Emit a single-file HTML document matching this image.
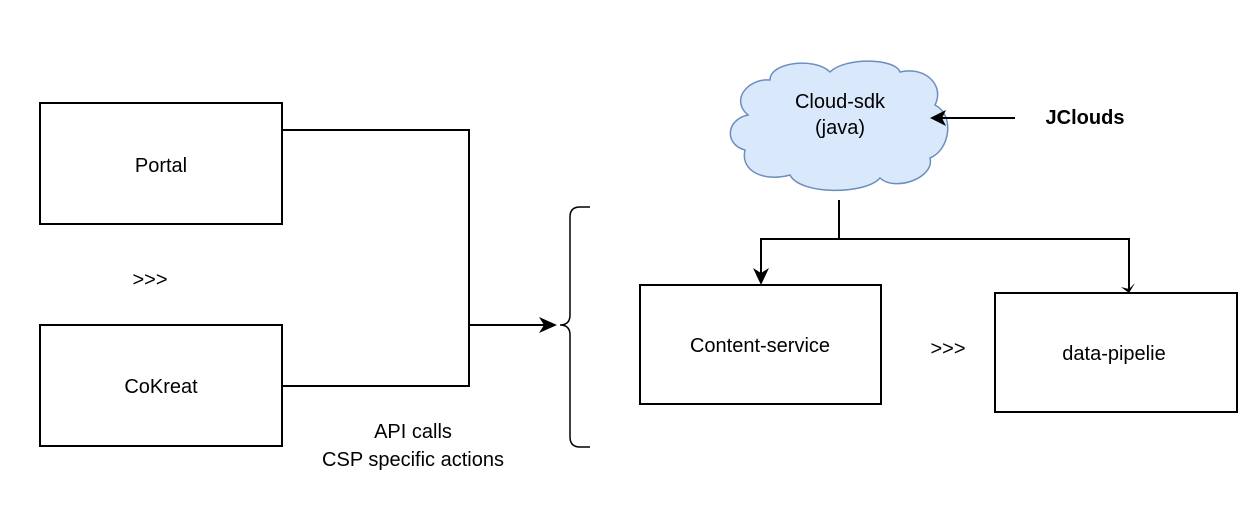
<!DOCTYPE html>
<html><head><style>
body{margin:0;background:#fff;}
svg text{font-family:"Liberation Sans",Arial,sans-serif;font-size:20px;fill:#000;}
</style></head><body>
<svg width="1252" height="522" viewBox="0 0 1252 522" xmlns="http://www.w3.org/2000/svg">
<g fill="#fff" stroke="#000" stroke-width="2">
<rect x="40" y="103" width="242" height="121"/>
<rect x="40" y="325" width="242" height="121"/>
<rect x="640" y="285" width="241" height="119"/>
<rect x="995" y="293" width="242" height="119"/>
</g>
<path d="M770,80 C770,62 815,57 830,72 C845,57 895,58 900,72 C925,66 945,85 935,105 C955,115 950,150 930,158 C935,178 895,192 880,178 C865,195 800,195 790,175 C765,182 740,172 745,150 C725,145 725,120 748,115 C730,100 748,78 770,80 Z" fill="#dae8fc" stroke="#6c8ebf" stroke-width="1.5"/>
<text x="840" y="108" text-anchor="middle">Cloud-sdk</text>
<text x="840" y="134" text-anchor="middle">(java)</text>
<text x="1085" y="124" text-anchor="middle" font-weight="bold" style="font-weight:bold">JClouds</text>
<text x="161" y="172" text-anchor="middle">Portal</text>
<text x="161" y="393" text-anchor="middle">CoKreat</text>
<text x="150" y="286" text-anchor="middle">&gt;&gt;&gt;</text>
<text x="760" y="352" text-anchor="middle">Content-service</text>
<text x="948" y="355" text-anchor="middle">&gt;&gt;&gt;</text>
<text x="1114" y="360" text-anchor="middle">data-pipelie</text>
<text x="413" y="438" text-anchor="middle">API calls</text>
<text x="413" y="466" text-anchor="middle">CSP specific actions</text>
<g fill="none" stroke="#000" stroke-width="2">
<path d="M282,130 H469 V386 H282"/>
<path d="M469,325 H545"/>
<path d="M1015,118 H942"/>
<path d="M839,200 V239 H761 V275"/>
<path d="M839,239 H1129 V290"/>
<path d="M590,207 H580 Q570,207 570,217 V315 Q570,325 560,325 Q570,325 570,335 V437 Q570,447 580,447 H590" stroke-width="1.5"/>
</g>
<g fill="#000">
<path d="M557,325 L539,317 L544,325 L539,333 Z"/>
<path d="M930,118 L946,110 L942,118 L946,126 Z"/>
<path d="M761,285 L753,268 L761,273 L769,268 Z"/>
<path d="M1129,293 L1121,287 L1129,289 L1135,283 Z"/>
</g>
</svg>
</body></html>
